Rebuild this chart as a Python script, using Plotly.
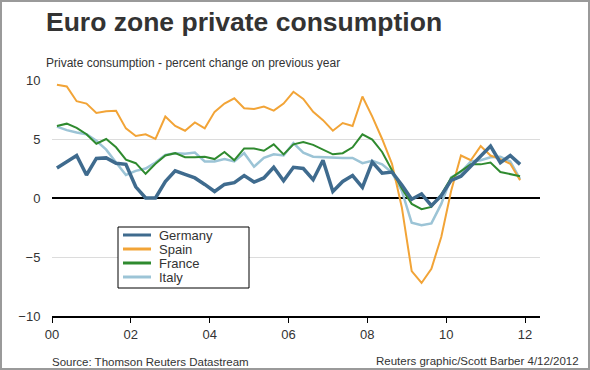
import plotly.graph_objects as go

# ---------------- data ----------------
years = list(range(2000, 2012))
quarter_offsets = [0.125, 0.375, 0.625, 0.875]  # mid-quarter positions
periods = [y + q for y in years for q in quarter_offsets]

germany = [2.55, 3.05, 3.6, 1.95, 3.35, 3.4, 2.95, 2.85, 0.95, 0.0, 0.0, 1.4,
           2.3, 2.0, 1.7, 1.15, 0.55, 1.15, 1.3, 1.9, 1.35, 1.7, 2.6, 1.45,
           2.6, 2.5, 1.55, 3.2, 0.55, 1.4, 1.9, 0.9, 3.05, 2.1, 2.2, 1.1,
           -0.1, 0.35, -0.65, 0.2, 1.5, 1.85, 2.7, 3.6, 4.4, 3.0, 3.6, 2.85]
spain = [9.6, 9.45, 8.2, 8.0, 7.2, 7.35, 7.4, 5.9, 5.25, 5.4, 5.0, 6.9,
         6.1, 5.7, 6.4, 5.9, 7.3, 8.0, 8.45, 7.6, 7.55, 7.75, 7.4, 8.0,
         9.0, 8.4, 7.3, 6.6, 5.7, 6.35, 6.1, 8.6, 6.9, 5.0, 2.9, -0.8,
         -6.2, -7.2, -6.0, -3.3, 0.6, 3.6, 3.2, 4.4, 3.6, 3.3, 2.9, 1.5]
france = [6.1, 6.3, 5.95, 5.4, 4.6, 5.0, 4.3, 3.25, 2.95, 2.05, 2.9, 3.6,
          3.8, 3.45, 3.45, 3.5, 3.3, 3.9, 3.2, 4.2, 4.2, 4.0, 4.55, 3.7,
          4.55, 4.75, 4.5, 4.1, 3.7, 3.8, 4.3, 5.4, 4.95, 3.9, 2.4, 0.8,
          -0.5, -0.95, -0.75, 0.3, 1.7, 2.3, 2.85, 2.85, 3.0, 2.2, 2.0, 1.85]
italy = [6.05, 5.75, 5.55, 5.4, 4.85, 4.1, 3.0, 1.95, 2.3, 2.5, 3.0, 3.65,
         3.8, 3.75, 3.85, 3.1, 3.1, 3.3, 3.1, 3.8, 2.65, 3.4, 3.7, 3.6,
         4.65, 3.85, 3.5, 3.45, 3.4, 3.4, 3.4, 2.95, 3.15, 2.85, 2.15, 0.6,
         -2.1, -2.3, -2.15, -0.5, 1.75, 2.2, 3.1, 3.2, 3.45, 3.5, 3.1, 1.6]

series_names = ["Germany", "Spain", "France", "Italy"]
series_values = [germany, spain, france, italy]
series_colors = ["#3f6b8e", "#f2a437", "#2f8a2f", "#9cc4d6"]
series_widths = [3.5, 2, 2, 2.5]
draw_order = ["Italy", "Spain", "France", "Germany"]

x_tick_vals = [2000, 2002, 2004, 2006, 2008, 2010, 2012]
x_tick_text = ["00", "02", "04", "06", "08", "10", "12"]
y_tick_vals = [-10, -5, 0, 5, 10]

title_text = "Euro zone private consumption"
subtitle_text = "Private consumption - percent change on previous year"
source_text = "Source: Thomson Reuters Datastream"
credit_text = "Reuters graphic/Scott Barber 4/12/2012"

# ---------------- layout geometry ----------------
W, H = 590, 370
L, R, T, B = 52, 50, 80, 54
PW, PH = W - L - R, H - T - B
FONT = "Liberation Sans, Arial, sans-serif"
TXT = "#333333"


def px(x):
    return (x - L) / PW


def py(y):
    return (H - B - y) / PH


fig = go.Figure()
for name in draw_order:
    i = series_names.index(name)
    fig.add_trace(go.Scatter(
        x=periods, y=series_values[i], mode="lines", name=name,
        line=dict(color=series_colors[i], width=series_widths[i]),
        showlegend=False,
    ))

shapes = []
annotations = []

# outer frame
shapes.append(dict(type="rect", xref="paper", yref="paper",
                   x0=px(1), x1=px(589), y0=py(1), y1=py(369),
                   line=dict(color="#9a9a9a", width=2), layer="below"))

# legend box
lg_left, lg_right, lg_top, lg_bottom = 118, 249, 227, 288
shapes.append(dict(type="rect", xref="paper", yref="paper",
                   x0=px(lg_left), x1=px(lg_right), y0=py(lg_bottom), y1=py(lg_top),
                   line=dict(color="black", width=1), fillcolor="white"))
row_y = [235, 249, 263, 277]
for k, name in enumerate(series_names):
    shapes.append(dict(type="line", xref="paper", yref="paper",
                       x0=px(123), x1=px(151), y0=py(row_y[k]), y1=py(row_y[k]),
                       line=dict(color=series_colors[k], width=3)))
    annotations.append(dict(text=name, xref="paper", yref="paper",
                            x=px(157), y=py(row_y[k]), xanchor="left", yanchor="middle",
                            showarrow=False, font=dict(family=FONT, size=13, color=TXT)))

annotations += [
    dict(text=title_text, xref="paper", yref="paper", x=px(44), y=py(22),
         xanchor="left", yanchor="middle", showarrow=False,
         font=dict(family=FONT, size=26.5, color=TXT, weight="bold")),
    dict(text=subtitle_text, xref="paper", yref="paper", x=px(44), y=py(63),
         xanchor="left", yanchor="middle", showarrow=False,
         font=dict(family=FONT, size=12, color=TXT)),
    dict(text=source_text, xref="paper", yref="paper", x=px(50), y=py(362),
         xanchor="left", yanchor="middle", showarrow=False,
         font=dict(family=FONT, size=11.5, color=TXT)),
    dict(text=credit_text, xref="paper", yref="paper", x=px(581), y=py(361),
         xanchor="right", yanchor="middle", showarrow=False,
         font=dict(family=FONT, size=11.5, color=TXT)),
]

fig.update_layout(
    width=W, height=H,
    margin=dict(l=L, r=R, t=T, b=B, pad=0),
    paper_bgcolor="white", plot_bgcolor="white",
    showlegend=False,
    shapes=shapes, annotations=annotations,
    font=dict(family=FONT, size=13, color=TXT),
    xaxis=dict(range=[2000, 2012.38], tickvals=x_tick_vals, ticktext=x_tick_text,
               showgrid=False, zeroline=False, showline=True, linecolor="black",
               linewidth=2, ticks="outside", ticklen=5, tickwidth=1, tickcolor="black",
               tickfont=dict(family=FONT, size=13, color=TXT)),
    yaxis=dict(range=[-10, 10], tickvals=y_tick_vals, showgrid=True,
               gridcolor="#dcdcdc", gridwidth=1, zeroline=True, zerolinecolor="black",
               zerolinewidth=1.5, showline=False, ticks="outside", ticklen=8,
               tickcolor="rgba(0,0,0,0)",
               tickfont=dict(family=FONT, size=13, color=TXT)),
)

fig.write_html("out.html", config={"displayModeBar": False},
               post_script="document.body.style.margin='0';")
